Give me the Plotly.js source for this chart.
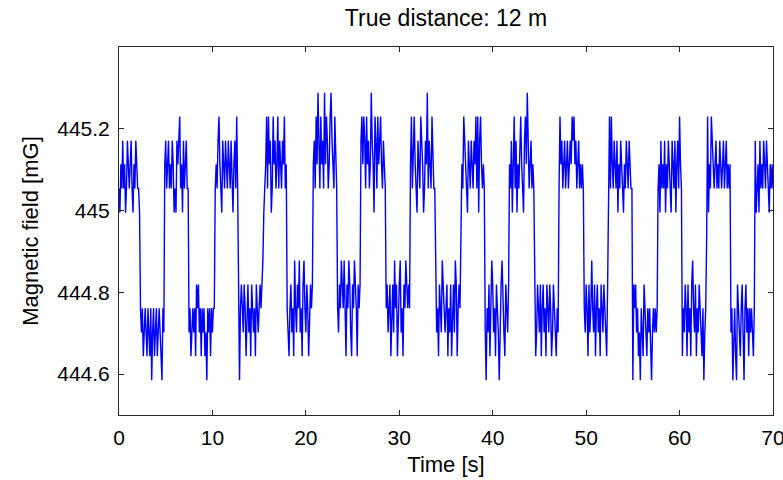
<!DOCTYPE html>
<html>
<head>
<meta charset="utf-8">
<script src="https://cdn.plot.ly/plotly-3.0.1.min.js"></script>
<style>
  html, body { margin: 0; padding: 0; background: #ffffff; }
  #chart { width: 783px; height: 480px; }
</style>
</head>
<body>
<div id="chart"></div>
<script>
// Magnetic field [mG], sampled every 0.1 s, split in 10 s chunks
const field_00_10 = [
445.054,444.995,445.113,445.054,445.171,445.054,445.113,444.995,445.054,445.171,
445.113,445.054,445.113,445.171,445.054,444.995,445.113,445.054,445.171,445.113,
445.054,445.054,444.995,444.761,444.702,444.761,444.644,444.702,444.761,444.702,
444.644,444.761,444.702,444.644,444.761,444.585,444.702,444.761,444.644,444.702,
444.761,444.644,444.702,444.761,444.702,444.644,444.585,444.761,444.702,445.113,
445.171,445.054,445.113,445.171,445.054,445.113,445.054,445.171,445.113,444.995,
445.054,444.995,445.171,445.113,445.171,445.230,445.054,445.113,444.995,445.171,
445.054,445.113,445.171,445.054,445.054,444.702,444.761,444.644,444.702,444.761,
444.702,444.761,444.644,444.819,444.761,444.819,444.702,444.761,444.644,444.761,
444.702,444.761,444.644,444.702,444.585,444.761,444.702,444.761,444.644,444.761];
const field_10_20 = [
444.702,444.761,444.761,445.054,445.113,445.054,445.171,445.230,445.113,445.054,
444.995,445.171,445.113,445.054,445.171,445.113,445.054,445.171,445.113,445.054,
445.171,445.054,444.995,445.113,445.171,445.054,445.230,445.054,444.702,444.585,
444.761,444.819,444.761,444.702,444.819,444.761,444.644,444.761,444.819,444.702,
444.761,444.644,444.819,444.761,444.702,444.761,444.644,444.819,444.761,444.702,
444.761,444.819,444.761,444.819,444.878,444.995,445.054,445.113,445.230,445.054,
445.230,445.113,445.171,444.995,445.054,445.230,445.113,445.171,445.054,445.113,
445.230,445.054,445.171,445.113,445.054,445.171,445.113,445.230,445.054,445.113,
444.761,444.702,444.644,444.761,444.819,444.702,444.761,444.644,444.878,444.761,
444.702,444.819,444.761,444.878,444.702,444.761,444.644,444.819,444.878,444.761];
const field_20_30 = [
444.702,444.819,444.761,444.644,444.761,444.819,444.761,444.819,445.113,445.171,
445.054,445.230,445.113,445.288,445.171,445.054,445.230,445.113,445.171,445.054,
445.288,445.113,445.230,445.171,445.054,445.113,445.230,445.288,445.171,445.113,
445.054,445.230,445.113,445.054,444.761,444.702,444.819,444.761,444.878,444.819,
444.761,444.878,444.702,444.644,444.819,444.761,444.878,444.819,444.702,444.644,
444.819,444.761,444.878,444.819,444.761,444.644,444.819,444.761,444.819,445.171,
445.230,445.113,445.230,445.171,445.054,445.230,445.113,445.171,445.054,445.113,
445.288,445.171,445.113,444.995,445.230,445.171,445.054,445.230,445.113,445.171,
445.230,445.113,445.054,445.171,445.113,445.054,444.761,444.819,444.702,444.761,
444.819,444.644,444.761,444.819,444.702,444.878,444.761,444.819,444.644,444.761];
const field_30_40 = [
444.819,444.878,444.702,444.761,444.644,444.819,444.761,444.878,444.819,444.761,
444.819,444.761,445.113,445.230,445.054,445.171,445.230,445.113,445.054,444.995,
445.171,445.113,445.054,445.230,445.171,445.113,444.995,445.054,445.171,445.113,
445.288,445.054,445.171,445.113,445.054,445.230,445.113,445.054,445.054,444.819,
444.702,444.761,444.644,444.819,444.761,444.702,444.878,444.819,444.761,444.702,
444.761,444.819,444.644,444.761,444.702,444.819,444.644,444.761,444.819,444.702,
444.878,444.819,444.644,444.761,444.819,444.761,445.054,445.113,445.054,445.230,
445.171,445.113,445.054,444.995,445.171,445.113,445.054,445.171,445.113,445.054,
445.171,445.113,445.230,445.054,445.230,444.995,445.171,445.230,445.113,445.054,
445.113,445.054,444.702,444.585,444.761,444.702,444.819,444.644,444.761,444.878];
const field_40_50 = [
444.819,444.702,444.761,444.644,444.819,444.761,444.702,444.585,444.761,444.819,
444.878,444.761,444.702,444.644,444.819,444.761,444.702,444.819,445.113,445.054,
445.171,444.995,445.113,445.230,445.054,445.171,444.995,445.113,445.054,445.171,
445.230,445.113,445.054,444.995,445.171,445.230,445.113,445.288,445.171,445.054,
445.113,445.171,445.054,445.113,445.054,444.761,444.644,444.702,444.819,444.761,
444.702,444.819,444.644,444.761,444.819,444.702,444.761,444.644,444.819,444.761,
444.702,444.819,444.761,444.644,444.702,444.819,444.761,444.702,444.644,444.761,
444.702,445.054,445.230,445.113,445.171,445.054,445.113,445.171,445.054,445.113,
445.171,445.054,445.113,445.171,445.113,445.230,445.171,445.230,445.113,445.171,
445.054,445.113,445.171,445.054,445.113,445.054,445.113,445.054,444.761,444.702];
const field_50_60 = [
444.819,444.761,444.644,444.819,444.702,444.761,444.878,444.761,444.702,444.819,
444.644,444.761,444.819,444.702,444.761,444.644,444.819,444.761,444.702,444.819,
444.761,444.702,444.644,444.819,445.113,445.230,445.054,445.230,445.113,445.054,
445.171,445.113,445.054,445.171,444.995,445.113,445.054,445.171,445.113,445.054,
444.995,445.113,445.054,445.171,445.113,445.054,445.171,445.113,445.054,445.054,
444.585,444.819,444.761,444.819,444.702,444.761,444.644,444.702,444.585,444.761,
444.702,444.644,444.819,444.761,444.702,444.644,444.761,444.702,444.761,444.644,
444.585,444.702,444.761,444.702,444.761,444.702,444.761,445.054,445.113,444.995,
445.171,445.054,445.113,445.054,445.171,444.995,445.113,445.054,445.171,445.113,
445.054,444.995,445.171,445.113,445.054,445.171,444.995,445.113,445.171,445.054];
const field_60_70 = [
445.230,445.113,445.054,444.644,444.761,444.702,444.819,444.761,444.644,444.819,
444.702,444.761,444.644,444.819,444.878,444.761,444.702,444.819,444.644,444.761,
444.702,444.819,444.761,444.702,444.644,444.761,444.585,444.702,444.761,444.937,
445.230,444.995,445.113,445.054,445.230,445.171,445.113,445.054,445.113,445.171,
445.054,445.113,445.054,445.171,445.113,445.054,445.113,445.171,445.054,445.113,
445.171,445.054,445.113,445.054,445.113,444.702,444.761,444.585,444.702,444.761,
444.644,444.585,444.819,444.761,444.702,444.644,444.761,444.819,444.702,444.585,
444.761,444.819,444.702,444.761,444.644,444.761,444.702,444.761,444.702,444.644,
444.761,445.171,444.995,445.054,445.113,444.995,445.171,445.054,445.113,445.054,
445.171,445.113,445.054,445.171,445.113,445.054,444.995,445.113,445.054,445.113,
445.054];

const sampleStart = 0;     // s
const sampleStep = 0.1;    // s
const yTickVals = [444.6, 444.8, 445, 445.2];
const yTickText = ['444.6', '444.8', '445', '445.2'];
const xTickVals = [0, 10, 20, 30, 40, 50, 60, 70];
const xTickText = ['0', '10', '20', '30', '40', '50', '60', '70'];

const field = [].concat(field_00_10, field_10_20, field_20_30, field_30_40,
                        field_40_50, field_50_60, field_60_70);

const FONT = 'Liberation Sans, Arial, sans-serif';

const trace = {
  type: 'scatter',
  mode: 'lines',
  y: field,
  x0: sampleStart,
  dx: sampleStep,
  line: { color: '#0000ff', width: 1.4 },
  hoverinfo: 'skip'
};

const axisCommon = {
  showline: true,
  linecolor: '#262626',
  linewidth: 1,
  mirror: 'ticks',
  ticks: 'inside',
  ticklen: 5,
  tickwidth: 1,
  tickcolor: '#262626',
  showgrid: false,
  zeroline: false,
  ticklabeloverflow: 'allow',
  tickfont: { family: FONT, size: 21, color: '#000000' }
};

const layout = {
  width: 783,
  height: 480,
  margin: { l: 119, r: 10, t: 47, b: 65 },
  paper_bgcolor: '#ffffff',
  plot_bgcolor: '#ffffff',
  showlegend: false,
  title: {
    text: 'True distance: 12 m',
    font: { family: FONT, size: 23, color: '#000000' },
    x: 0.5, xref: 'paper', xanchor: 'center',
    y: 0.963, yref: 'container', yanchor: 'middle'
  },
  xaxis: Object.assign({}, axisCommon, {
    range: [0, 70],
    tickmode: 'array',
    tickvals: xTickVals,
    ticktext: xTickText,
    ticklabelstandoff: 4,
    title: { text: 'Time [s]', font: { family: FONT, size: 22, color: '#000000' }, standoff: 8 }
  }),
  yaxis: Object.assign({}, axisCommon, {
    range: [444.5, 445.4],
    tickmode: 'array',
    tickvals: yTickVals,
    ticktext: yTickText,
    ticklabelstandoff: 4,
    title: { text: 'Magnetic field [mG]', font: { family: FONT, size: 22, color: '#000000' }, standoff: 12 }
  })
};

Plotly.newPlot('chart', [trace], layout, { staticPlot: true, displayModeBar: false });
</script>
</body>
</html>
